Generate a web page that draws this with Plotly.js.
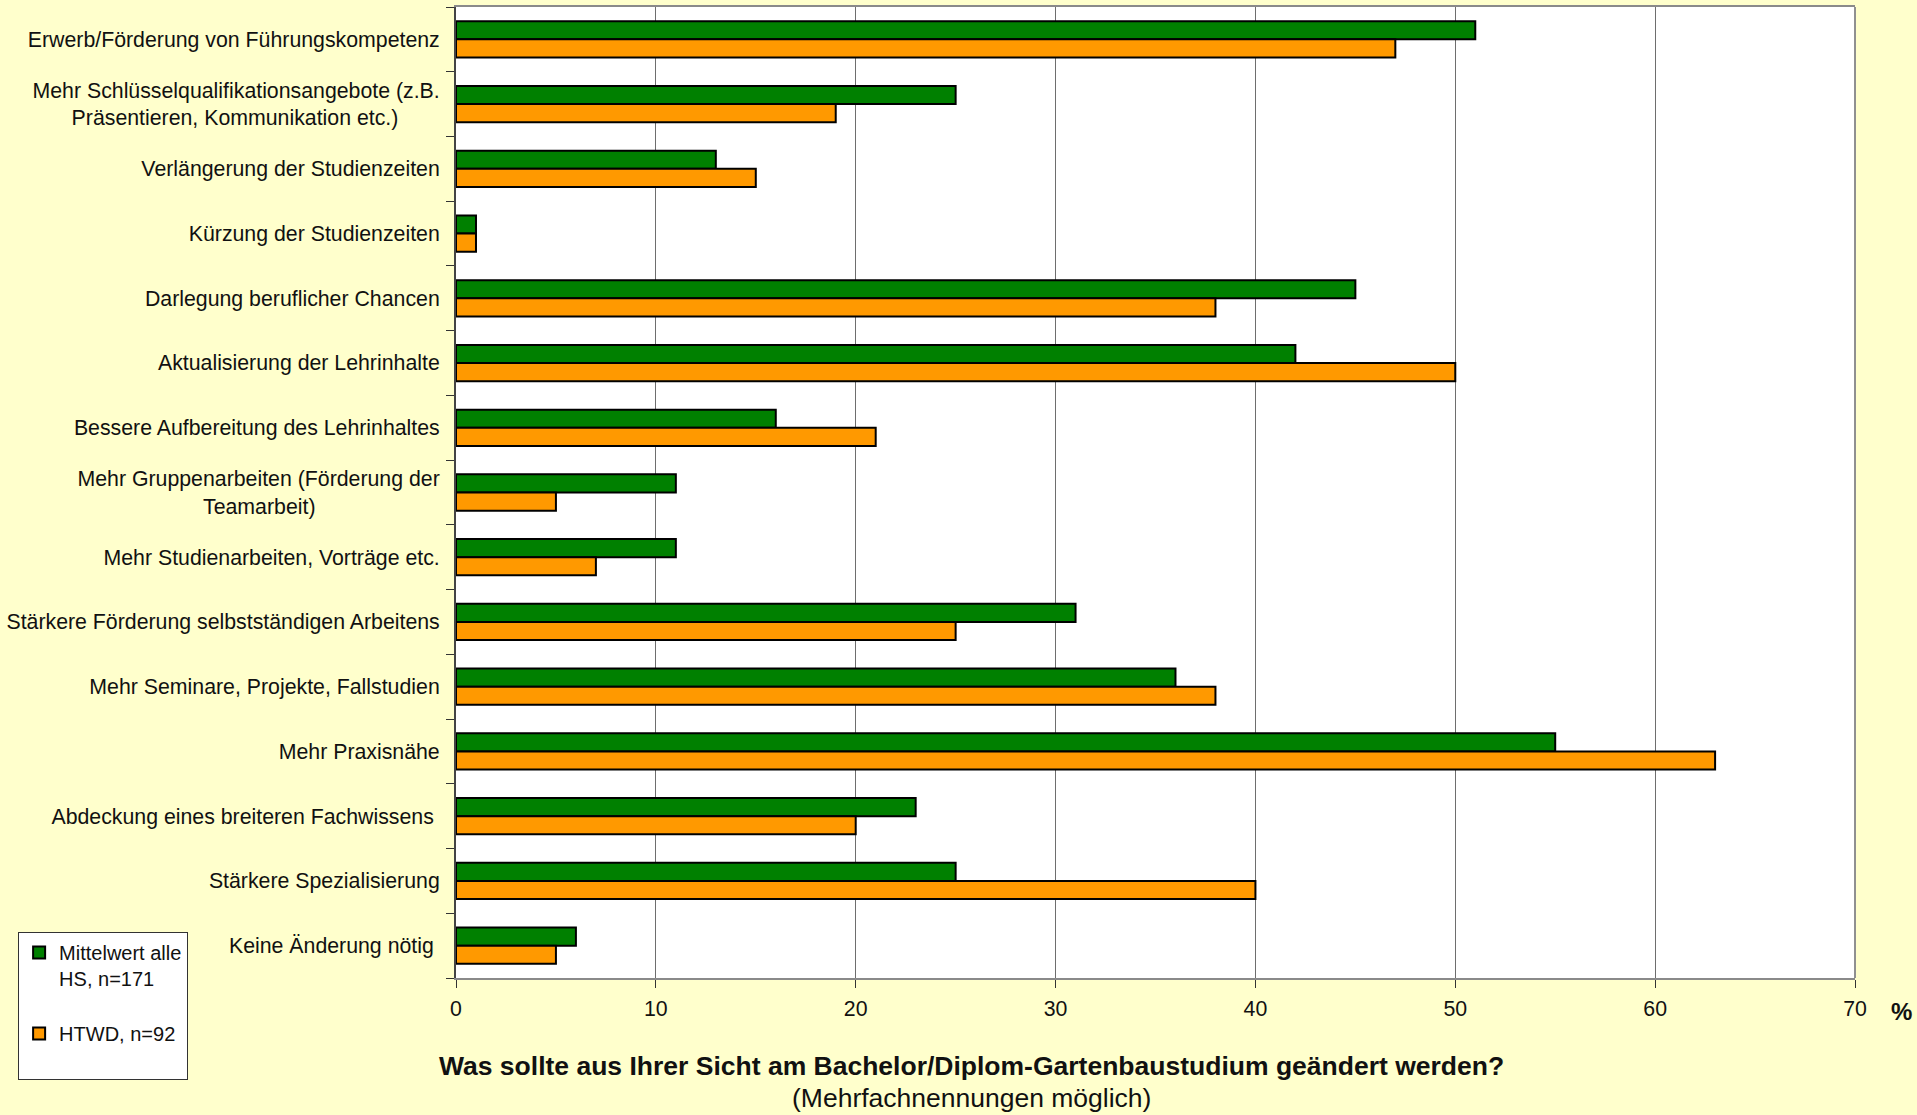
<!DOCTYPE html>
<html>
<head>
<meta charset="utf-8">
<script src="https://cdn.plot.ly/plotly-3.0.1.min.js"></script>
<style>
html,body{margin:0;padding:0;background:#FFFFCC;}
#chart{width:1917px;height:1115px;}
</style>
</head>
<body>
<div id="chart"></div>
<script>
const categories = [
  "Erwerb/Förderung von Führungskompetenz",
  "Mehr Schlüsselqualifikationsangebote (z.B. Präsentieren, Kommunikation etc.)",
  "Verlängerung der Studienzeiten",
  "Kürzung der Studienzeiten",
  "Darlegung beruflicher Chancen",
  "Aktualisierung der Lehrinhalte",
  "Bessere Aufbereitung des Lehrinhaltes",
  "Mehr Gruppenarbeiten (Förderung der Teamarbeit)",
  "Mehr Studienarbeiten, Vorträge etc.",
  "Stärkere Förderung selbstständigen Arbeitens",
  "Mehr Seminare, Projekte, Fallstudien",
  "Mehr Praxisnähe",
  "Abdeckung eines breiteren Fachwissens",
  "Stärkere Spezialisierung",
  "Keine Änderung nötig"
];
const NB = "\u00a0";
const tickLabels = [
  "Erwerb/Förderung von Führungskompetenz",
  "Mehr Schlüsselqualifikationsangebote (z.B.<br>Präsentieren, Kommunikation etc.)" + NB.repeat(7),
  "Verlängerung der Studienzeiten",
  "Kürzung der Studienzeiten",
  "Darlegung beruflicher Chancen",
  "Aktualisierung der Lehrinhalte",
  "Bessere Aufbereitung des Lehrinhaltes",
  "Mehr Gruppenarbeiten (Förderung der<br>Teamarbeit)" + NB.repeat(21),
  "Mehr Studienarbeiten, Vorträge etc.",
  "Stärkere Förderung selbstständigen Arbeitens",
  "Mehr Seminare, Projekte, Fallstudien",
  "Mehr Praxisnähe",
  "Abdeckung eines breiteren Fachwissens" + NB,
  "Stärkere Spezialisierung",
  "Keine Änderung nötig" + NB
];
const mittelwertAlle = [51, 25, 13, 1, 45, 42, 16, 11, 11, 31, 36, 55, 23, 25, 6];
const htwd = [47, 19, 15, 1, 38, 50, 21, 5, 7, 25, 38, 63, 20, 40, 5];
const seriesNames = ["Mittelwert alle<br>HS, n=171", "HTWD, n=92<br> "];
const xTicks = [0, 10, 20, 30, 40, 50, 60, 70];

const FONT = "Liberation Sans, Arial, sans-serif";

const traces = [
  {
    type: "bar", orientation: "h", name: seriesNames[0],
    y: categories, x: mittelwertAlle, legendgroup: "a",
    marker: {color: "#008000", line: {color: "#000000", width: 2}}
  },
  {
    type: "bar", orientation: "h", name: seriesNames[1],
    y: categories, x: htwd, legendgroup: "b",
    marker: {color: "#FF9900", line: {color: "#000000", width: 2}}
  }
];

const layout = {
  width: 1917, height: 1115,
  paper_bgcolor: "#FFFFCC",
  plot_bgcolor: "#FFFFFF",
  margin: {l: 456, r: 62, t: 7, b: 137, pad: 0},
  font: {family: FONT, size: 21.3, color: "#111111"},
  barmode: "group",
  bargap: 0.44,
  bargroupgap: 0,
  showlegend: true,
  legend: {
    x: -0.313, y: 0.0474, xanchor: "left", yanchor: "top",
    bgcolor: "#FFFFFF", bordercolor: "#333333", borderwidth: 1,
    font: {family: FONT, size: 20, color: "#111111"},
    traceorder: "grouped", tracegroupgap: 26, valign: "top",
    itemwidth: 30
  },
  xaxis: {
    range: [0, 70], tickvals: xTicks, ticktext: xTicks.map(String),
    showgrid: true, gridcolor: "#6e6e6e", gridwidth: 1,
    zeroline: false,
    showline: true, linecolor: "#8a8a8a", linewidth: 2, mirror: true,
    ticks: "outside", ticklen: 8, tickcolor: "#333333", tickwidth: 1,
    tickfont: {family: FONT, size: 21.3, color: "#111111"},
    ticklabelstandoff: 2,
    fixedrange: true
  },
  yaxis: {
    type: "category", autorange: "reversed",
    tickvals: categories, ticktext: tickLabels,
    tickson: "boundaries",
    showgrid: false, zeroline: false,
    showline: true, linecolor: "#444444", linewidth: 2,
    ticks: "outside", ticklen: 8, tickcolor: "#333333", tickwidth: 1,
    tickfont: {family: FONT, size: 21.3, color: "#111111"},
    ticklabelstandoff: 10,
    fixedrange: true
  },
  shapes: [
    {type: "line", xref: "paper", yref: "paper", x0: 1, x1: 1, y0: 0, y1: 1,
     line: {color: "#909090", width: 2}}
  ],
  annotations: [
    {xref: "paper", yref: "paper", x: 1.033, y: -0.035, text: "<b>%</b>",
     showarrow: false, xanchor: "center", yanchor: "middle",
     font: {family: FONT, size: 24, color: "#111111"}},
    {xref: "paper", yref: "paper", x: 0.3688, y: -0.0906,
     text: "<b>Was sollte aus Ihrer Sicht am Bachelor/Diplom-Gartenbaustudium geändert werden?</b>",
     showarrow: false, xanchor: "center", yanchor: "middle",
     font: {family: FONT, size: 26.5, color: "#111111"}},
    {xref: "paper", yref: "paper", x: 0.3688, y: -0.1236,
     text: "(Mehrfachnennungen möglich)",
     showarrow: false, xanchor: "center", yanchor: "middle",
     font: {family: FONT, size: 26.5, color: "#111111"}}
  ]
};

Plotly.newPlot("chart", traces, layout, {displayModeBar: false, staticPlot: true});
</script>
</body>
</html>
